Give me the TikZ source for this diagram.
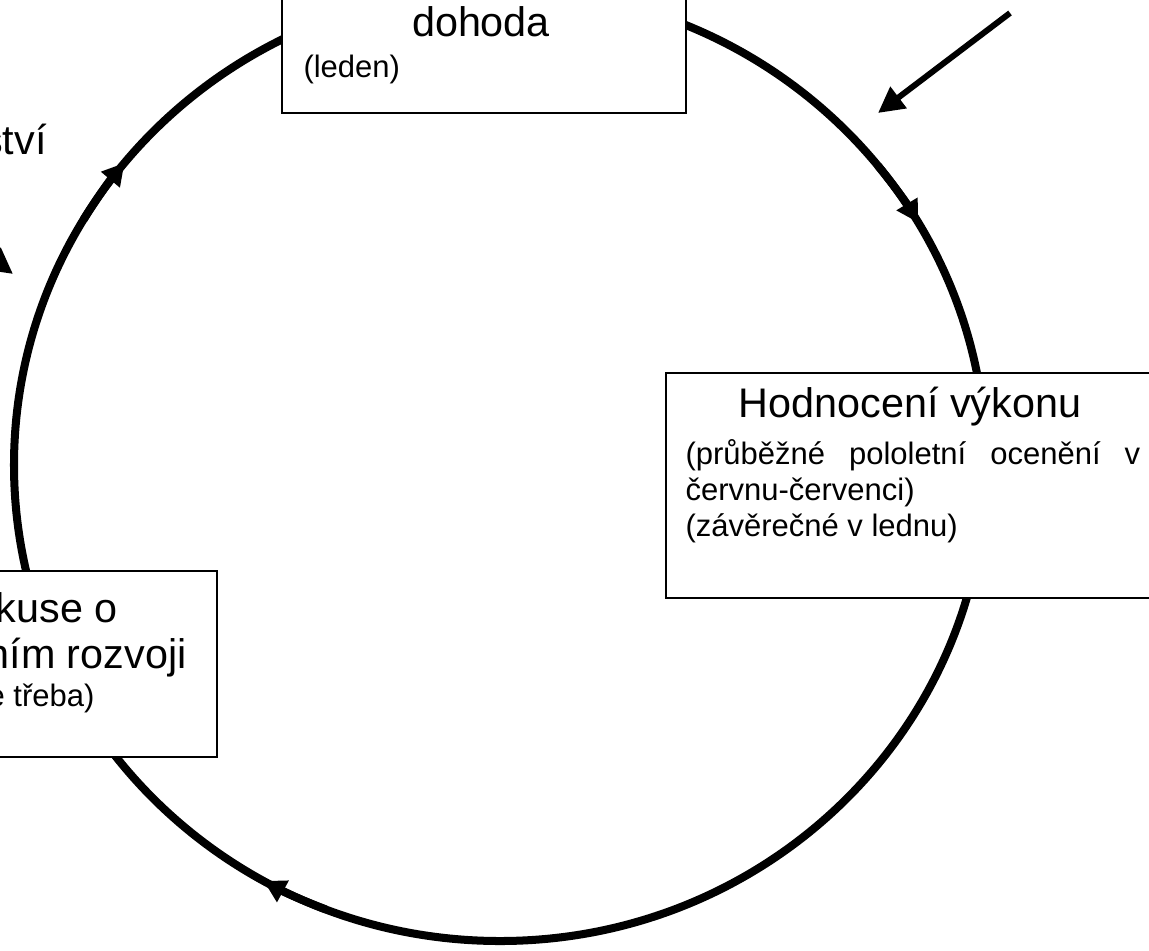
\documentclass[tikz,border=0pt]{standalone}
\usepackage{fontspec}
\setmainfont{Liberation Sans}
\usetikzlibrary{arrows.meta}
\newcommand{\px}{0.387pt}

\begin{document}
\begin{tikzpicture}[
    x=0.387pt, y=-0.387pt,
    % Kruh cyklu (silna cerna cara)
    cyklus/.style={
        draw=black,
        line width=3.1pt
    },
    % Sipka na kruhu
    sipkaKruh/.style={
        cyklus,
        -{Triangle[length=8.5pt, width=9pt]}
    },
    % Vnejsi sipky k kruhu
    sipka/.style={
        draw=black,
        line width=2.3pt,
        -{Triangle[length=10pt, width=10pt]}
    },
    % Ramecky faze
    box/.style={draw=black, line width=0.8pt, fill=white, rectangle, inner sep=0pt},
    velky/.style={font=\fontsize{16}{19}\selectfont, inner sep=0pt},
    maly/.style={font=\fontsize{12}{14}\selectfont, inner sep=0pt}
]

    \useasboundingbox (0,0) rectangle (1149,950);
    \clip (0,0) rectangle (1149,950);

    % --- 1. KRUH CYKLU ---
    \coordinate (C) at (500,465);
    \draw[cyklus] (C) ellipse [x radius=486, y radius=476];

    % Sipky na kruhu (ve smeru hodinovych rucicek)
    \foreach \a/\b in {111/119.1, 211/219.4, 321/329.4} {
        \draw[sipkaKruh] (C) ++(\a:486 and 476)
            arc [start angle=\a, end angle=\b, x radius=486, y radius=476];
    }

    % --- 2. RAMECKY ---
    \node[box, minimum width=404*\px, minimum height=253*\px] (dohoda) at (484,-13.5) {};
    \node[box, minimum width=488*\px, minimum height=225*\px] (hodnoceni) at (910,485.5) {};
    \node[box, minimum width=380*\px, minimum height=186*\px] (diskuse) at (27,664) {};

    % --- 3. TEXTY ---
    \node[velky, anchor=base] (dohodaT) at (481,36) {dohoda};
    \node[maly, anchor=base west] (ledenT) at (303,77) {(leden)};

    \node[velky, anchor=base] (hodnT) at (910,417) {Hodnocení výkonu};
    \node[maly, anchor=base west, text width=176pt, align=justify] (hodnP) at (685,464)
        {\tolerance=9999 (průběžné pololetní ocenění v červnu-červenci)\\(závěrečné v lednu)};

    \node[velky, anchor=base east] (diskA) at (118,622) {kuse o};
    \node[velky, anchor=base east] (diskB) at (187,668) {ním rozvoji};
    \node[maly, anchor=base east] (diskC) at (95,706) {e třeba)};

    \node[velky, anchor=base east] (stvi) at (47,154) {ství};

    % --- 4. VNEJSI SIPKY ---
    \coordinate (pravaStart) at (1010,13);
    \coordinate (pravaCil) at (878,113);
    \draw[sipka] (pravaStart) -- (pravaCil);

    \coordinate (levaStart) at (-119,174);
    \coordinate (levaCil) at (13,274);
    \draw[sipka] (levaStart) -- (levaCil);

\end{tikzpicture}
\end{document}
